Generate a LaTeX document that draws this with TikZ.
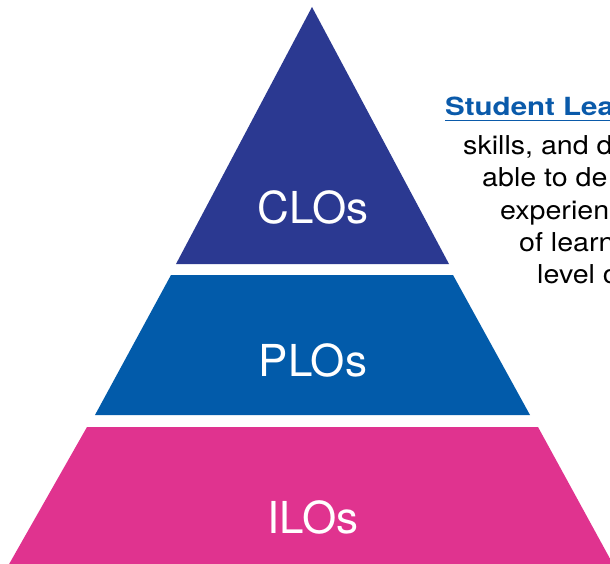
\documentclass[tikz,border=0pt]{standalone}
\usepackage{fontspec}
\setmainfont{TeX Gyre Heros}
\newfontfamily\bodyfont{TeX Gyre Heros}[FakeStretch=1.1]
\newfontfamily\headfont{TeX Gyre Heros Bold}[FakeStretch=1.18]
\definecolor{clonavy}{RGB}{43,57,145}
\definecolor{ploblue}{RGB}{2,91,170}
\definecolor{ilopink}{RGB}{224,51,143}
\definecolor{headblue}{RGB}{10,90,170}
\tikzset{
  tierlabel/.style={text=white, inner sep=0pt, anchor=base,
    font=\fontsize{44}{48}\selectfont},
  bodyline/.style={inner sep=0pt, anchor=base west, text=black,
    font=\bodyfont\fontsize{26}{30}\selectfont},
}
\begin{document}
\begin{tikzpicture}[x=1pt,y=-1pt]
\useasboundingbox (0,0) rectangle (610,564);
\clip (0,0) rectangle (610,564);
\fill[white] (0,0) rectangle (610,564);

% pyramid tiers
\fill[clonavy] (312,7) -- (449,264) -- (176,264) -- cycle;
\fill[ploblue] (171,275) -- (453,275) -- (530,415) -- (95,415) -- cycle;
\fill[ilopink] (87,427) -- (538,427) -- (614,566) -- (8,566) -- cycle;

% tier labels
\node[tierlabel] (clo) at (313,223) {CLOs};
\node[tierlabel] (plo) at (313,376) {PLOs};
\node[tierlabel] (ilo) at (313,533) {ILOs};

% side description, running off the right edge
\node[inner sep=0pt, anchor=base west, text=headblue,
  font=\headfont\fontsize{25}{30}\selectfont] (head) at (445,116) {Student Lea};
\draw[headblue, line width=1.6pt] (445,120.5) -- (612,120.5);
\node[bodyline] (l1) at (463,155) {skills, and d};
\node[bodyline] (l2) at (482,187) {able to de};
\node[bodyline] (l3) at (500,219) {experien};
\node[bodyline] (l4) at (519,251) {of learn};
\node[bodyline] (l5) at (537,283) {level o};
\end{tikzpicture}
\end{document}
